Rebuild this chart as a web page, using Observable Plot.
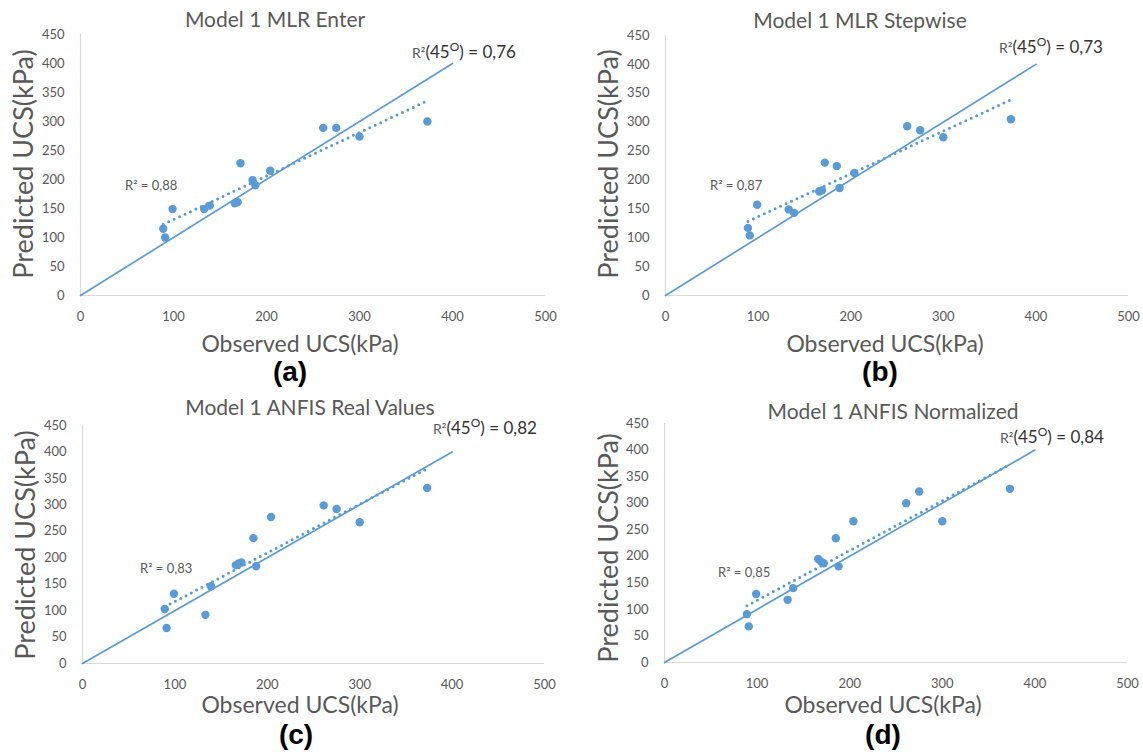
<!DOCTYPE html>
<html>
<head>
<meta charset="utf-8">
<script src="https://cdn.jsdelivr.net/npm/d3@7"></script>
<script src="https://cdn.jsdelivr.net/npm/@observablehq/plot@0.6"></script>
<style>
  body { margin: 0; background: #fff; }
  #fig { position: relative; width: 1143px; height: 752px; overflow: hidden; }
  #fig > svg, #fig > figure { position: absolute; margin: 0; }
  #overlay { left: 0; top: 0; pointer-events: none; }
</style>
</head>
<body>
<div id="fig"></div>
<script>
// Observed UCS (kPa) of the test samples, shared by all four models
const observed = [89, 91, 99, 133, 139, 166, 169, 172, 185, 188, 204, 261, 275, 300, 373];

// Predicted UCS (kPa) for each model
const predMlrEnter    = [115, 100, 149, 149, 155, 159, 161, 228, 199, 190, 215, 289, 289, 274, 300];
const predMlrStepwise = [117, 104, 157, 149, 143, 180, 182, 230, 224, 186, 212, 293, 286, 274, 305];
const predAnfisReal   = [103,  67, 132,  92, 146, 186, 189, 191, 237, 184, 277, 299, 292, 267, 332];
const predAnfisNorm   = [ 91,  68, 129, 118, 140, 195, 190, 187, 234, 181, 266, 300, 322, 266, 327];

// Panel titles, letters and reported R² values
const titles   = ["Model 1 MLR Enter", "Model 1 MLR Stepwise", "Model 1 ANFIS Real Values", "Model 1 ANFIS Normalized"];
const letters  = ["(a)", "(b)", "(c)", "(d)"];
const r2Trend  = ["0,88", "0,87", "0,83", "0,85"];
const r2Line45 = ["0,76", "0,73", "0,82", "0,84"];

// Axis ticks and the 1:1 reference line
const xTicks = [0, 100, 200, 300, 400, 500];
const yTicks = [0, 50, 100, 150, 200, 250, 300, 350, 400, 450];
const diagonal = [0, 400];

const blue = "#5b9bd5";
const grey = "#595959";
const font = "Lato, 'Open Sans', sans-serif";

const fig = document.getElementById("fig");

function scatter(pred, box) {
  const rows = observed.map((o, i) => ({observed: o, predicted: pred[i]}));
  const chart = Plot.plot({
    width: box.width,
    height: box.height,
    marginLeft: 80,
    marginRight: 15,
    marginTop: box.mt,
    marginBottom: box.mb,
    style: {fontFamily: font, fontSize: "13px", color: grey, background: "transparent", overflow: "visible"},
    x: {domain: [0, 500], ticks: xTicks, tickSize: 0, tickPadding: 16, label: null},
    y: {domain: [0, 450], ticks: yTicks, tickSize: 0, tickPadding: 16, label: null},
    marks: [
      Plot.ruleY([0], {stroke: "#d9d9d9", strokeWidth: 1.2}),
      Plot.ruleX([0], {stroke: "#d9d9d9", strokeWidth: 1.2}),
      Plot.line(diagonal, {x: d => d, y: d => d, stroke: blue, strokeWidth: 1.7}),
      // least-squares trend line, drawn as round dots
      Plot.linearRegressionY(rows, {
        x: "observed", y: "predicted", ci: 0,
        stroke: blue, strokeWidth: 3, strokeDasharray: "0 6", strokeLinecap: "round"
      }),
      Plot.dot(rows, {x: "observed", y: "predicted", r: 4.2, fill: blue})
    ]
  });
  chart.style.left = box.left + "px";
  chart.style.top = box.top + "px";
  fig.appendChild(chart);
}

const boxes = [
  {left: 0,   top: 0,   width: 560, height: 330, mt: 34, mb: 35},
  {left: 585, top: 0,   width: 558, height: 330, mt: 35, mb: 35},
  {left: 2,   top: 390, width: 557, height: 308, mt: 35, mb: 35},
  {left: 584, top: 390, width: 558, height: 307, mt: 33, mb: 35}
];
[predMlrEnter, predMlrStepwise, predAnfisReal, predAnfisNorm].forEach((p, i) => scatter(p, boxes[i]));

// Text layer: titles, axis titles, panel letters and R² annotations
const textPos = [
  {title: [275, 27],  ylab: [24, 164],  xlab: [300, 352], letter: [290, 381], r2: [125, 190], r45: [412, 58]},
  {title: [860, 28],  ylab: [609, 164], xlab: [885, 352], letter: [880, 381], r2: [710, 190], r45: [999, 53]},
  {title: [310, 415], ylab: [26, 545],  xlab: [300, 713], letter: [296, 744], r2: [140, 573], r45: [433, 434]},
  {title: [893, 419], ylab: [609, 548], xlab: [883, 713], letter: [883, 744], r2: [718, 577], r45: [1000, 443]}
];

const svg = d3.select(fig).append("svg")
  .attr("id", "overlay")
  .attr("width", 1143).attr("height", 752)
  .style("font-family", font);

textPos.forEach((p, i) => {
  svg.append("text").attr("x", p.title[0]).attr("y", p.title[1])
    .attr("text-anchor", "middle").attr("font-size", 21).attr("fill", grey)
    .text(titles[i]);
  svg.append("text")
    .attr("transform", `translate(${p.ylab[0]},${p.ylab[1]}) rotate(-90)`)
    .attr("text-anchor", "middle").attr("dy", "0.35em").attr("font-size", 27).attr("fill", grey)
    .text("Predicted UCS(kPa)");
  svg.append("text").attr("x", p.xlab[0]).attr("y", p.xlab[1])
    .attr("text-anchor", "middle").attr("font-size", 23).attr("fill", grey)
    .text("Observed UCS(kPa)");
  svg.append("text").attr("x", p.letter[0]).attr("y", p.letter[1])
    .attr("text-anchor", "middle").attr("font-size", 28).attr("font-weight", "bold")
    .attr("font-family", "Arial, 'Liberation Sans', sans-serif").attr("fill", "#000")
    .text(letters[i]);
  svg.append("text").attr("x", p.r2[0]).attr("y", p.r2[1])
    .attr("font-size", 13).attr("fill", grey)
    .text("R² = " + r2Trend[i]);
  const t = svg.append("text").attr("x", p.r45[0]).attr("y", p.r45[1]).attr("fill", "#333");
  t.append("tspan").attr("font-size", 14).attr("fill", grey).text("R²");
  t.append("tspan").attr("font-size", 17).text("(45");
  t.append("tspan").attr("font-size", 12).attr("dy", -7).text("O");
  t.append("tspan").attr("font-size", 17).attr("dy", 7).text(") = " + r2Line45[i]);
});
</script>
</body>
</html>
